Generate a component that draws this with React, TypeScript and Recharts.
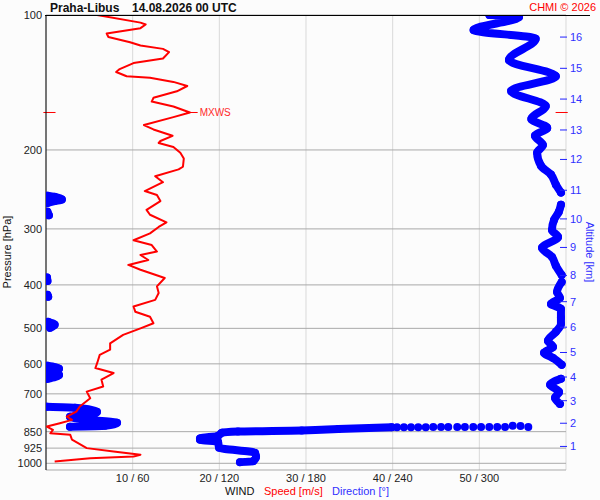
import React from 'react';
import { ComposedChart, Scatter, XAxis, YAxis, CartesianGrid, ReferenceLine } from 'recharts';

const RED = '#ff0000';
const BLUE = '#0000ff';
const FONT = '"Liberation Sans", Arial, sans-serif';

const pressureTicks = [100, 200, 300, 400, 500, 600, 700, 850, 925, 1000];
const speedTicks = [10, 20, 30, 40, 50, 60];
const altitudeKm = [1, 2, 3, 4, 5, 6, 7, 8, 9, 10, 11, 12, 13, 14, 15, 16];
const altitudePressure = [917, 814, 725, 642, 566, 497, 436, 381, 330, 285, 246, 210, 180.5, 154, 131.5, 112];

// wind speed [m/s] against pressure [hPa]
const speedProfile = [
  { p: 100, v: 5.9 }, { p: 104, v: 10.9 }, { p: 105, v: 11.5 }, { p: 107, v: 10.9 },
  { p: 110, v: 7.0 }, { p: 112, v: 7.2 }, { p: 115, v: 9.7 }, { p: 117, v: 10.9 },
  { p: 119, v: 13.5 }, { p: 121, v: 14.2 }, { p: 125, v: 13.5 }, { p: 128, v: 10.1 },
  { p: 132, v: 8.5 }, { p: 134, v: 8.1 }, { p: 137, v: 9.3 }, { p: 138, v: 12.0 },
  { p: 141, v: 14.7 }, { p: 144, v: 16.3 }, { p: 148, v: 15.1 }, { p: 153, v: 12.4 },
  { p: 156, v: 12.2 }, { p: 160, v: 14.7 }, { p: 165, v: 16.6 }, { p: 169, v: 14.7 },
  { p: 176, v: 11.3 }, { p: 180, v: 12.4 }, { p: 186, v: 14.6 }, { p: 191, v: 13.2 },
  { p: 193, v: 13.0 }, { p: 197, v: 14.7 }, { p: 203, v: 15.5 }, { p: 209, v: 15.9 },
  { p: 218, v: 15.8 }, { p: 221, v: 15.3 }, { p: 229, v: 12.6 }, { p: 236, v: 13.5 },
  { p: 247, v: 11.4 }, { p: 252, v: 12.8 }, { p: 260, v: 13.2 }, { p: 272, v: 11.6 },
  { p: 279, v: 12.0 }, { p: 290, v: 13.9 }, { p: 297, v: 13.0 }, { p: 307, v: 12.0 },
  { p: 318, v: 10.1 }, { p: 326, v: 12.2 }, { p: 337, v: 12.8 }, { p: 343, v: 10.9 },
  { p: 352, v: 11.8 }, { p: 361, v: 9.5 }, { p: 370, v: 10.9 }, { p: 386, v: 13.7 },
  { p: 403, v: 12.8 }, { p: 417, v: 13.0 }, { p: 432, v: 12.6 }, { p: 447, v: 10.1 },
  { p: 459, v: 10.3 }, { p: 471, v: 12.0 }, { p: 487, v: 12.4 }, { p: 500, v: 10.9 },
  { p: 517, v: 8.9 }, { p: 540, v: 7.4 }, { p: 558, v: 7.4 }, { p: 573, v: 6.2 },
  { p: 598, v: 5.9 }, { p: 613, v: 5.7 }, { p: 629, v: 7.8 }, { p: 651, v: 6.4 },
  { p: 674, v: 6.6 }, { p: 692, v: 4.7 }, { p: 716, v: 5.1 }, { p: 747, v: 3.9 },
  { p: 767, v: 3.5 }, { p: 787, v: 2.4 }, { p: 800, v: 3.0 }, { p: 814, v: 1.6 },
  { p: 828, v: 0.1 }, { p: 842, v: 0.8 }, { p: 857, v: 0.5 }, { p: 864, v: 2.8 },
  { p: 886, v: 3.0 }, { p: 925, v: 4.7 }, { p: 941, v: 7.8 }, { p: 957, v: 10.9 },
  { p: 966, v: 10.1 }, { p: 974, v: 5.1 }, { p: 991, v: 1.0 },
];

// wind direction [deg] against pressure, split where it wraps round 0/360
const dirTop = [
  { p: 100, d: 307 }, { p: 101, d: 327.5 }, { p: 108, d: 296 }, { p: 113, d: 339 },
  { p: 126, d: 320.5 }, { p: 137, d: 353 }, { p: 147.7, d: 322 }, { p: 159.6, d: 346 },
  { p: 170.6, d: 336 }, { p: 178.6, d: 347 }, { p: 186, d: 338.5 }, { p: 195, d: 344 },
  { p: 203, d: 340 }, { p: 217, d: 342.7 }, { p: 227, d: 349.6 }, { p: 239, d: 353 },
  { p: 249, d: 356.5 },
];
const dirUpperMid = [
  { p: 265, d: 356.5 }, { p: 275, d: 355 }, { p: 286.5, d: 351.7 }, { p: 301.6, d: 350.3 },
  { p: 312.6, d: 354.5 }, { p: 330.7, d: 343.4 }, { p: 346.4, d: 350.3 }, { p: 362.7, d: 353 },
  { p: 380, d: 357 },
];
const dirMid = [
  { p: 394, d: 357 }, { p: 414.6, d: 353.8 }, { p: 427.6, d: 355.8 }, { p: 441, d: 349.6 },
  { p: 452.5, d: 356.5 }, { p: 473.8, d: 356.5 }, { p: 488.7, d: 356.5 }, { p: 509, d: 353 },
  { p: 533, d: 347.5 }, { p: 550, d: 351 }, { p: 567, d: 344.8 }, { p: 582, d: 351 },
  { p: 603, d: 357 },
];
const dirLowMid = [
  { p: 648, d: 356.5 }, { p: 668, d: 349 }, { p: 693, d: 355.2 }, { p: 714.5, d: 352.4 },
  { p: 737, d: 355.8 },
];
const dirNorth1 = [{ p: 253, d: 1 }, { p: 254.5, d: 6 }, { p: 258, d: 11 }, { p: 260, d: 6 }, { p: 262.6, d: 1 }];
const dirNorth2 = [{ p: 274.6, d: 1 }, { p: 279.6, d: 2 }];
const dirNorth3 = [{ p: 385, d: 0.7 }, { p: 392, d: 1 }];
const dirNorth4 = [{ p: 421, d: 1 }, { p: 425, d: 1.5 }];
const dirNorth5 = [{ p: 483.6, d: 1.4 }, { p: 491, d: 6 }, { p: 498.7, d: 2.8 }];
const dirNorth6 = [{ p: 606, d: 1 }, { p: 615, d: 9 }, { p: 625, d: 2 }, { p: 635, d: 9 }, { p: 648, d: 1 }];
const dirNorth7 = [
  { p: 748, d: 0.7 }, { p: 752, d: 20 }, { p: 767.7, d: 35.3 }, { p: 779.6, d: 31.8 },
  { p: 787.7, d: 16.6 }, { p: 800, d: 30.5 }, { p: 812.4, d: 49.2 }, { p: 824.9, d: 40.8 },
  { p: 829, d: 16.6 },
];
const dirTurn = [
  { p: 830, d: 333.9 }, { p: 826, d: 328.5 }, { p: 825, d: 323.1 }, { p: 830, d: 317.8 },
  { p: 830, d: 312.4 }, { p: 830, d: 306.9 }, { p: 830, d: 301.2 }, { p: 830, d: 295.8 },
  { p: 830, d: 290.0 }, { p: 830, d: 284.7 }, { p: 830, d: 278.5 }, { p: 830, d: 273.5 },
  { p: 830, d: 268.1 }, { p: 831, d: 262.9 }, { p: 831, d: 257.7 }, { p: 831, d: 252.7 },
  { p: 831, d: 247.8 }, { p: 831, d: 243.0 },
];
const dirSurface = [
  { p: 831, d: 239.3 }, { p: 838.5, d: 202.4 }, { p: 845, d: 177 }, { p: 849.5, d: 132.9 },
  { p: 855, d: 121.8 }, { p: 868.5, d: 119.1 }, { p: 880, d: 106.6 }, { p: 886, d: 106.6 },
  { p: 895.7, d: 119.1 }, { p: 923.6, d: 119.8 }, { p: 947.6, d: 144.7 }, { p: 967, d: 145.4 },
  { p: 989.7, d: 143.3 }, { p: 994, d: 134.3 },
];

const trails = [
  dirTop, dirUpperMid, dirMid, dirLowMid, dirNorth1, dirNorth2, dirNorth3,
  dirNorth4, dirNorth5, dirNorth6, dirNorth7, dirSurface,
];

const maxWind = speedProfile.reduce((a, b) => (b.v > a.v ? b : a));

const Dot = (props: any) => <circle cx={props.cx} cy={props.cy} r={4} fill={BLUE} />;
const NoDot = () => <g />;

const AltTick = (props: any) => {
  const { x, y, payload } = props;
  const km = altitudeKm[altitudePressure.indexOf(payload.value)];
  return (
    <g>
      <line x1={x - 10} x2={x - 3} y1={y} y2={y} stroke="#2020ff" />
      <text x={x} y={y} dy="0.35em" fill="#3030ff" fontSize={11} fontFamily={FONT}>
        {km}
      </text>
    </g>
  );
};

export default function App() {
  return (
    <div style={{ position: 'relative', width: 600, height: 500, background: '#fcfcfc', fontFamily: FONT }}>
      <style>{'body{margin:0}'}</style>
      <ComposedChart width={600} height={500} margin={{ top: 15, right: 0, bottom: 0, left: 0 }}>
        <CartesianGrid xAxisId="v" yAxisId="p" horizontal={false} stroke="#d9d9d9" />
        <CartesianGrid xAxisId="v" yAxisId="p" vertical={false} stroke="#a9a9a9" />
        <XAxis
          xAxisId="v"
          type="number"
          dataKey="v"
          domain={[0, 60]}
          ticks={speedTicks}
          interval={0}
          tickFormatter={(v: number) => (v === 60 ? '' : `${v} / ${v * 6}`)}
          axisLine={false}
          tickLine={false}
          tickSize={0}
          tickMargin={4}
          height={30}
          tick={{ fontSize: 11, fill: '#222', fontFamily: FONT }}
          allowDataOverflow
        />
        <XAxis xAxisId="d" orientation="top" type="number" dataKey="d" domain={[0, 360]} hide allowDataOverflow />
        <YAxis
          yAxisId="p"
          type="number"
          dataKey="p"
          scale="log"
          domain={[100, 1035]}
          reversed
          ticks={pressureTicks}
          interval={0}
          width={46}
          axisLine={{ stroke: '#000' }}
          tickLine={false}
          tickSize={0}
          tickMargin={4}
          tick={{ fontSize: 11, fill: '#222', fontFamily: FONT }}
          allowDataOverflow
        />
        <YAxis
          yAxisId="alt"
          orientation="right"
          type="number"
          dataKey="p"
          scale="log"
          domain={[100, 1035]}
          reversed
          ticks={altitudePressure}
          interval={0}
          width={34}
          axisLine={false}
          tickLine={false}
          tickSize={0}
          tickMargin={4}
          tick={<AltTick />}
          allowDataOverflow
        />
        {trails.map((t, i) => (
          <Scatter
            key={i}
            xAxisId="d"
            yAxisId="p"
            data={t}
            fill={BLUE}
            line={{ stroke: BLUE, strokeWidth: 8, strokeLinejoin: 'round', strokeLinecap: 'round' }}
            lineJointType="monotoneY"
            shape={Dot}
            isAnimationActive={false}
          />
        ))}
        <Scatter xAxisId="d" yAxisId="p" data={dirTurn} fill={BLUE} shape={Dot} isAnimationActive={false} />
        <Scatter
          xAxisId="v"
          yAxisId="p"
          data={speedProfile}
          fill={RED}
          line={{ stroke: RED, strokeWidth: 2, strokeLinejoin: 'round' }}
          shape={NoDot}
          isAnimationActive={false}
        />
        <ReferenceLine
          xAxisId="v"
          yAxisId="p"
          ifOverflow="visible"
          stroke={RED}
          segment={[{ x: -0.3, y: maxWind.p }, { x: 1.1, y: maxWind.p }]}
        />
        <ReferenceLine
          xAxisId="v"
          yAxisId="p"
          ifOverflow="visible"
          stroke={RED}
          segment={[{ x: 58.8, y: maxWind.p }, { x: 60.2, y: maxWind.p }]}
        />
        <ReferenceLine
          xAxisId="v"
          yAxisId="p"
          ifOverflow="visible"
          stroke={RED}
          segment={[{ x: maxWind.v, y: maxWind.p }, { x: maxWind.v + 0.9, y: maxWind.p }]}
          label={{ value: 'MXWS', position: 'right', offset: 2, fill: '#ff2a2a', fontSize: 10, fontFamily: FONT }}
        />
      </ComposedChart>
      <svg width={600} height={500} style={{ position: 'absolute', left: 0, top: 0, pointerEvents: 'none' }}>
        <line x1={45} x2={590} y1={15.5} y2={15.5} stroke="#000" />
        <text x={50} y={11.5} fontSize={12} fontWeight="bold" fill="#111">Praha-Libus</text>
        <text x={132} y={11.5} fontSize={12} fontWeight="bold" fill="#111">14.08.2026 00 UTC</text>
        <text x={596} y={10.8} fontSize={11} fill={RED} textAnchor="end">CHMI © 2026</text>
        <text x={11} y={252} fontSize={11} fill="#111" textAnchor="middle" transform="rotate(-90 11 252)">
          Pressure [hPa]
        </text>
        <text x={586} y={252} fontSize={11} fill="#3030ff" textAnchor="middle" transform="rotate(90 586 252)">
          Altitude [km]
        </text>
        <text x={225} y={495} fontSize={11} fill="#111">WIND</text>
        <text x={264} y={495} fontSize={11} fill={RED}>Speed [m/s]</text>
        <text x={332} y={495} fontSize={11} fill="#3030ff">Direction [°]</text>
      </svg>
    </div>
  );
}
